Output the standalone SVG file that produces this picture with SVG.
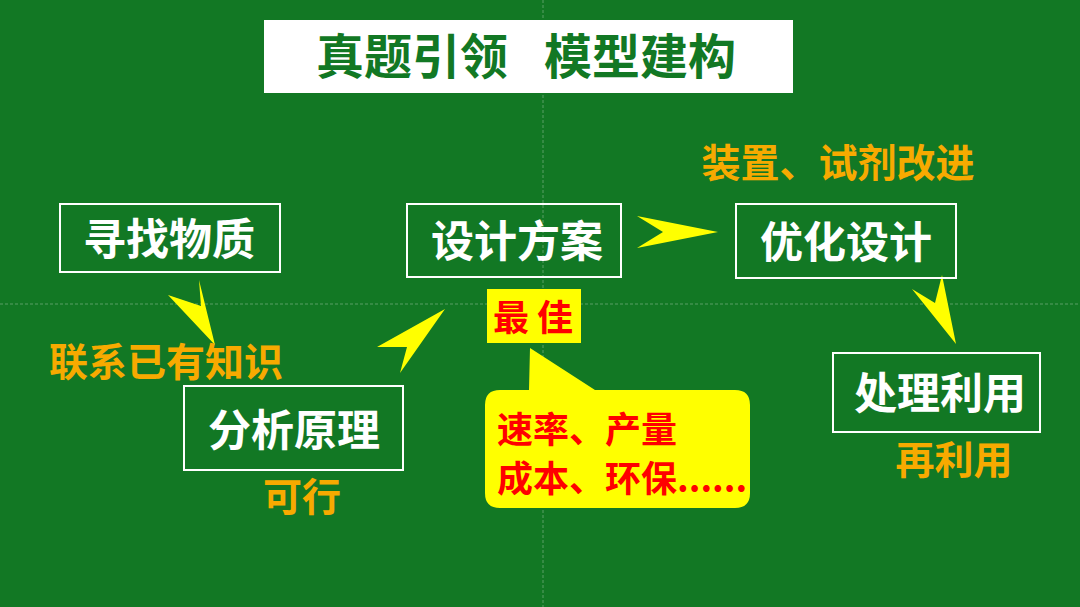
<svg xmlns="http://www.w3.org/2000/svg" width="1080" height="607" viewBox="0 0 1080 607">
<style>
.cn{font-family:"Noto Sans CJK SC","Noto Sans CJK JP",sans-serif;font-weight:bold;text-anchor:middle}
.box{fill:none;stroke:#ffffff;stroke-width:2}
.nt{fill:#ffffff;font-size:43px}
.or{fill:#F7AA00;font-size:39px}
.rd{fill:#FF0000;font-size:36px}
.arr{fill:#FFFF00}
.guide{stroke:#9fc6a6;stroke-width:1;stroke-dasharray:3 2;opacity:0.5}
</style>
<rect width="1080" height="607" fill="#127824"/>
<line class="guide" x1="0" y1="304" x2="1080" y2="304"/>
<line class="guide" x1="543" y1="0" x2="543" y2="607"/>
<g id="title">
<rect x="264" y="20" width="529" height="73" fill="#ffffff"/>
<text class="cn" x="412" y="74" font-size="48" fill="#127824">真题引领</text>
<text class="cn" x="640" y="74" font-size="48" fill="#127824">模型建构</text>
</g>
<g id="connectors">
<polygon class="arr" points="168,295 201,306 199,280 215,345"/>
<polygon class="arr" points="377,347 407,347 400,373 445,309"/>
<polygon class="arr" points="637,216 718,232 637,248 663,232"/>
<polygon class="arr" points="912,289 935,303 942,275 956,344"/>
</g>
<g id="node-xunzhao">
<rect class="box" x="60" y="204" width="220" height="68"/>
<text class="cn nt" x="169" y="255">寻找物质</text>
</g>
<g id="node-sheji">
<rect class="box" x="407" y="204" width="214" height="73"/>
<text class="cn nt" x="517" y="257">设计方案</text>
</g>
<g id="node-youhua">
<rect class="box" x="736" y="204" width="220" height="74"/>
<text class="cn nt" x="846" y="258">优化设计</text>
</g>
<g id="node-chuli">
<rect class="box" x="833" y="353" width="207" height="79"/>
<text class="cn nt" x="940" y="409">处理利用</text>
</g>
<g id="node-fenxi">
<rect class="box" x="184" y="386" width="219" height="84"/>
<text class="cn nt" x="294" y="446">分析原理</text>
</g>
<g id="labels">
<text class="cn or" x="838" y="177">装置、试剂改进</text>
<text class="cn or" x="166" y="376">联系已有知识</text>
<text class="cn or" x="302" y="511">可行</text>
<text class="cn or" x="954" y="474">再利用</text>
</g>
<g id="callout">
<rect x="487" y="289" width="94" height="54" fill="#FFFF00"/>
<text class="cn rd" x="533" y="331" font-size="35">最  佳</text>
<path d="M500,390 L529,390 L530,348 L595,390 L735,390 Q750,390 750,405 L750,493 Q750,508 735,508 L500,508 Q485,508 485,493 L485,405 Q485,390 500,390 Z" fill="#FFFF00"/>
<text class="rd" x="497" y="443" style="font-family:'Noto Sans CJK SC',sans-serif;font-weight:bold">速率、产量</text>
<text class="rd" x="497" y="492" style="font-family:'Noto Sans CJK SC',sans-serif;font-weight:bold">成本、环保......</text>
</g>
</svg>
